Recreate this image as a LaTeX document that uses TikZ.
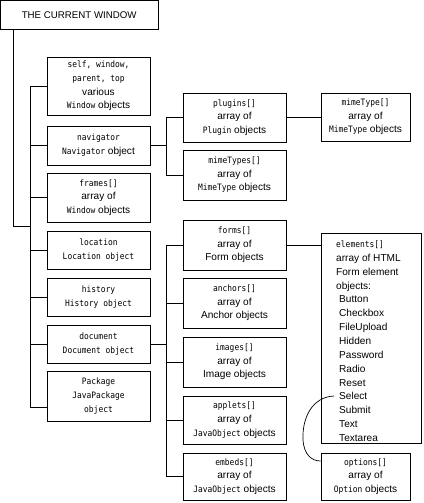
\documentclass[tikz,border=0pt]{standalone}
\usepackage{fontspec}
\setmainfont{Liberation Sans}
\newfontfamily\monof[FakeStretch=0.9]{DejaVu Sans Mono}
\newcommand\m[1]{{\monof\fontsize{8.8}{13.7}\selectfont #1}}
\tikzset{
  box/.style={draw, line width=0.9pt, inner sep=0pt, align=center,
    font=\fontsize{10.1}{13.7}\selectfont},
  conn/.style={line width=0.9pt},
}
\begin{document}
\begin{tikzpicture}[x=1pt,y=-1pt]
\useasboundingbox (0,0) rectangle (423,503);
% title
\node[box, minimum width=157.5, minimum height=29.5, font=\fontsize{9.7}{12}\selectfont] (title) at (79.2,15.2) {THE CURRENT WINDOW};
% column 1
\node[box, minimum width=103, minimum height=58] (self) at (98.5,86) {\m{self, window,}\\ \m{parent, top}\\ various\\ \m{Window} objects};
\node[box, minimum width=103, minimum height=39] (nav) at (98.5,145.5) {\m{navigator}\\ \m{Navigator} object};
\node[box, minimum width=103, minimum height=49] (frames) at (98.5,197.5) {\m{frames[]}\\ array of\\ \m{Window} objects};
\node[box, minimum width=103, minimum height=38] (location) at (98.5,250) {\m{location}\\ \m{Location object}};
\node[box, minimum width=103, minimum height=38] (history) at (98.5,297) {\m{history}\\ \m{History object}};
\node[box, minimum width=103, minimum height=38] (document) at (98.5,344) {\m{document}\\ \m{Document object}};
\node[box, minimum width=103, minimum height=50] (package) at (98.5,396) {\m{Package}\\ \m{JavaPackage}\\ \m{object}};
% column 2
\node[box, minimum width=103, minimum height=49] (plugins) at (234.5,117.5) {\m{plugins[]}\\ array of\\ \m{Plugin} objects};
\node[box, minimum width=103, minimum height=50] (mimeTypes) at (234.5,175) {\m{mimeTypes[]}\\ array of\\ \m{MimeType} objects};
\node[box, minimum width=103, minimum height=50] (forms) at (234.5,245) {\m{forms[]}\\ array of\\ Form objects};
\node[box, minimum width=103, minimum height=50] (anchors) at (234.5,303) {\m{anchors[]}\\ array of\\ Anchor objects};
\node[box, minimum width=103, minimum height=50] (images) at (234.5,362) {\m{images[]}\\ array of\\ Image objects};
\node[box, minimum width=103, minimum height=48] (applets) at (234.5,420) {\m{applets[]}\\ array of\\ \m{JavaObject} objects};
\node[box, minimum width=103, minimum height=47] (embeds) at (234.5,476.5) {\m{embeds[]}\\ array of\\ \m{JavaObject} objects};
% column 3
\node[box, minimum width=89, minimum height=48] (mimeType) at (365.5,117) {\m{mimeType[]}\\ array of\\ \m{MimeType} objects};
\node[box, minimum width=100, minimum height=210] (elements) at (371,338) {};
\node[anchor=north west, inner sep=0pt, align=left, font=\fontsize{10.1}{13.86}\selectfont] (eltext) at (336,240.5)
  {\m{elements[]}\\ array of HTML\\ Form element\\ objects:\\
   \hspace{3pt}Button\\ \hspace{3pt}Checkbox\\ \hspace{3pt}FileUpload\\ \hspace{3pt}Hidden\\
   \hspace{3pt}Password\\ \hspace{3pt}Radio\\ \hspace{3pt}Reset\\ \hspace{3pt}Select\\
   \hspace{3pt}Submit\\ \hspace{3pt}Text\\ \hspace{3pt}Textarea};
\node[box, minimum width=89, minimum height=47] (options) at (365.5,476.5) {\m{options[]}\\ array of\\ \m{Option} objects};
% connectors
\coordinate (ja) at (13,226);
\coordinate (jb) at (30,226);
\coordinate (vt) at (30,86);
\coordinate (vb) at (30,407);
\coordinate (n1) at (166,0);
\coordinate (yo) at (0,461);
\coordinate (sel) at (334,396);
\draw[conn] (ja |- title.south) -- (ja) -- (jb);
\draw[conn] (vt) -- (vb);
\foreach \b in {self,nav,frames,location,history,document}
  \draw[conn] (vt |- \b.west) -- (\b.west);
\draw[conn] (vb) -- (vb -| package.west);
\draw[conn] (nav.east) -- (nav.east -| n1);
\draw[conn] (n1 |- plugins.west) -- (n1 |- mimeTypes.west);
\draw[conn] (n1 |- plugins.west) -- (plugins.west);
\draw[conn] (n1 |- mimeTypes.west) -- (mimeTypes.west);
\draw[conn] (plugins.east) -- (plugins.east -| mimeType.west);
\draw[conn] (document.east) -- (document.east -| n1);
\draw[conn] (n1 |- forms.west) -- (n1 |- embeds.west);
\foreach \b in {forms,anchors,images,applets,embeds}
  \draw[conn] (n1 |- \b.west) -- (\b.west);
\draw[conn] (forms.east) -- (forms.east -| elements.west);
\draw[line width=0.7pt] (sel) .. controls (312,397) and (302,418) .. (303,440) .. controls (304,455) and (312,461) .. (options.west |- yo);
\end{tikzpicture}
\end{document}
